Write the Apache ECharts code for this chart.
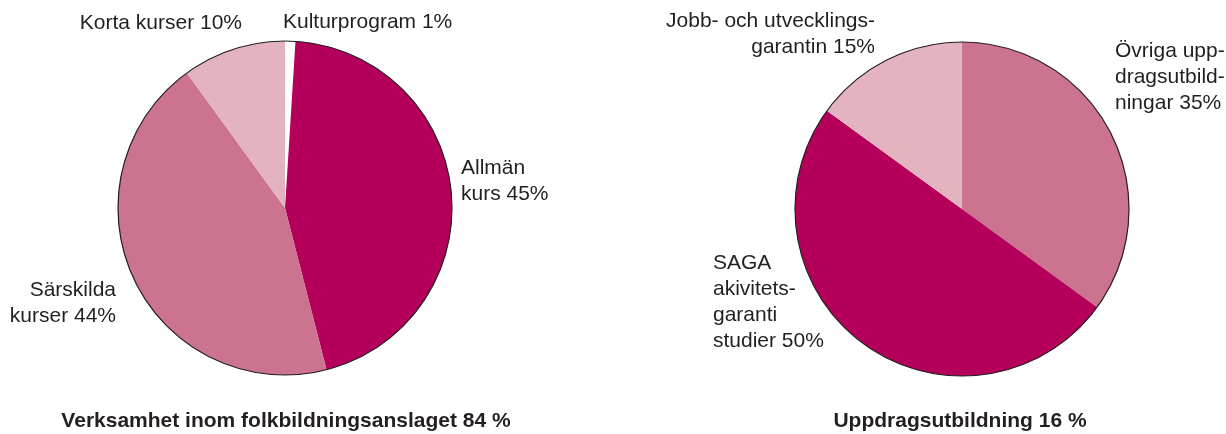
<!DOCTYPE html>
<html>
<head>
<meta charset="utf-8">
<script src="https://cdn.jsdelivr.net/npm/echarts@6/dist/echarts.min.js"></script>
<style>
  html, body { margin: 0; padding: 0; background: #fff; }
  #chart { width: 1226px; height: 434px; }
</style>
</head>
<body>
<div id="chart"></div>
<script>
// vänster cirkel: folkbildningsanslaget
var leftNames = ['Kulturprogram', 'Allmän\nkurs', 'Särskilda\nkurser', 'Korta kurser'];
var leftValues = [1, 45, 44, 10];
var leftTitle = 'Verksamhet inom folkbildningsanslaget 84 %';

// höger cirkel: uppdragsutbildning
var rightNames = ['Övriga upp-\ndragsutbild-\nningar', 'SAGA\nakivitets-\ngaranti\nstudier', 'Jobb- och utvecklings-\ngarantin'];
var rightValues = [35, 50, 15];
var rightTitle = 'Uppdragsutbildning 16 %';

var dark = '#b5005b', mid = '#cc7390', light = '#e3b3c0';
var leftColors = ['#ffffff', dark, mid, light];
var rightColors = [mid, dark, light];

// var etiketterna sitter (x, y, justering)
var labelPos = [
  [[283, 22, 'left'], [461, 181, 'left'], [116, 303, 'right'], [242, 23, 'right']],
  [[1115, 77, 'left'], [713, 302, 'left'], [875, 34, 'right']]
];

var font = '"Liberation Sans", Arial, sans-serif';
var R = 167;

function makeData(names, values, colors) {
  return values.map(function (v, i) {
    return { name: names[i], value: v, itemStyle: { color: colors[i] } };
  });
}

function pieSeries(center, data) {
  return {
    type: 'pie',
    center: center,
    radius: R,
    startAngle: 90,
    clockwise: true,
    silent: true,
    itemStyle: { borderWidth: 0 },
    label: {
      show: true,
      formatter: '{b} {c}%',
      color: '#231f20',
      fontSize: 21,
      fontFamily: font,
      lineHeight: 26,
      overflow: 'none'
    },
    labelLine: { show: false },
    labelLayout: function (p) {
      var a = labelPos[p.seriesIndex][p.dataIndex];
      return { x: a[0], y: a[1], align: a[2], verticalAlign: 'middle' };
    },
    data: data
  };
}

// tunn kontur runt cirkeln
function outline(center) {
  return {
    type: 'pie',
    center: center,
    radius: R,
    silent: true,
    z: 3,
    label: { show: false },
    labelLine: { show: false },
    itemStyle: { color: 'rgba(0,0,0,0)', borderColor: '#231f20', borderWidth: 1.2 },
    data: [{ value: 1 }]
  };
}

var chart = echarts.init(document.getElementById('chart'));
var option = {
  animation: false,
  backgroundColor: '#fff',
  series: [
    pieSeries([285, 208], makeData(leftNames, leftValues, leftColors)),
    pieSeries([962, 209], makeData(rightNames, rightValues, rightColors)),
    outline([285, 208]),
    outline([962, 209])
  ],
  graphic: [
    { type: 'text', x: 286, y: 421, style: { text: leftTitle, font: 'bold 21px ' + font, fill: '#231f20', align: 'center', verticalAlign: 'middle', textAlign: 'center', textVerticalAlign: 'middle' } },
    { type: 'text', x: 960, y: 421, style: { text: rightTitle, font: 'bold 21px ' + font, fill: '#231f20', align: 'center', verticalAlign: 'middle', textAlign: 'center', textVerticalAlign: 'middle' } }
  ]
};
chart.setOption(option);
</script>
</body>
</html>
